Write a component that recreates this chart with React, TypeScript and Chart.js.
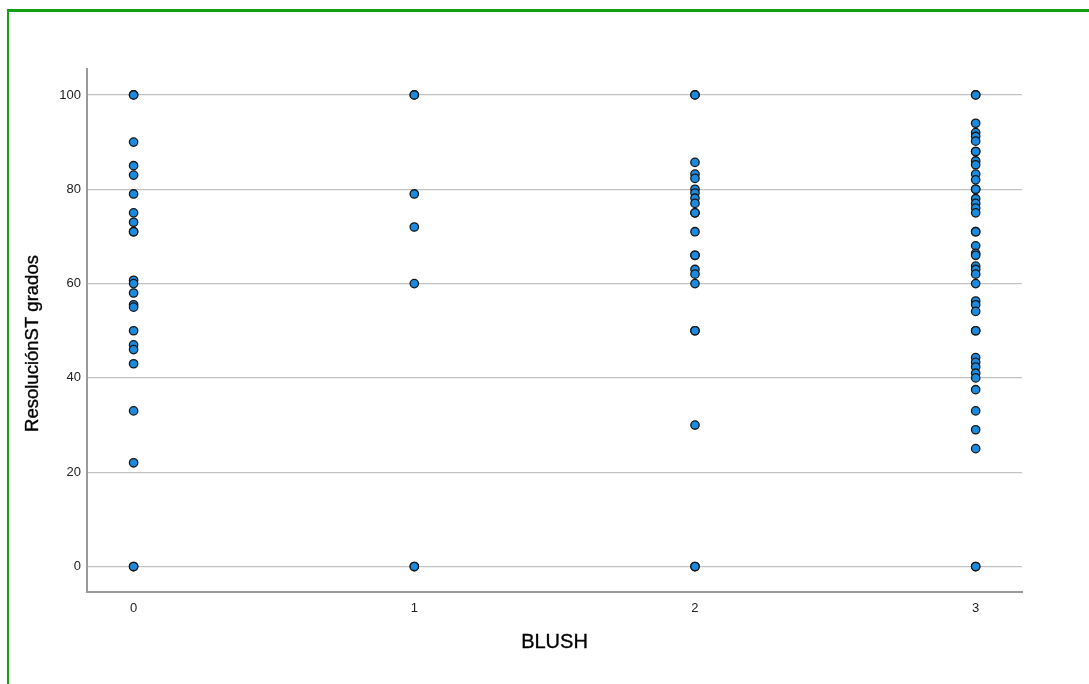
import React, { useEffect, useRef } from "react";
import { Chart, registerables } from "chart.js";

Chart.register(...registerables);

// BLUSH levels on the x axis
const blushLevels = [0, 1, 2, 3];

// ResoluciónST grados values observed at each BLUSH level
const blush0 = [100, 100, 90, 85, 83, 79, 75, 73, 71, 71, 60.7, 60, 58, 55.5, 55, 50, 47, 46, 43, 33, 22, 0, 0];
const blush1 = [100, 100, 79, 72, 60, 0, 0];
const blush2 = [100, 100, 85.7, 83.2, 82.3, 80, 79.2, 78.1, 77, 75, 75, 71, 66, 66, 63, 62, 60, 50, 50, 30, 0, 0];
const blush3 = [
  100, 100, 94, 92, 91.2, 90.2, 88, 88, 86, 85.2, 83.2, 82, 80, 80, 78, 77, 76, 75, 71, 71,
  68, 66.4, 66, 63.7, 63, 62, 60, 56.3, 55.5, 54.1, 50, 50, 44.3, 43.3, 42.3, 41, 40, 37.5,
  33, 29, 25, 0, 0,
];

// Axis tick values
const xTickValues = [0, 1, 2, 3];
const yTickValues = [0, 20, 40, 60, 80, 100];

const xTitle = "BLUSH";
const yTitle = "ResoluciónST grados";

const W = 1089;
const H = 684;

const FONT = "'Liberation Sans', Arial, Helvetica, sans-serif";

// Axis titles drawn at fixed spots beside the plot area
const axisTitles = {
  id: "axisTitles",
  afterDraw(chart: any) {
    const { ctx, chartArea } = chart;
    ctx.save();
    ctx.fillStyle = "#000";
    ctx.strokeStyle = "#000";
    ctx.lineWidth = 0.35;
    ctx.textAlign = "center";
    ctx.textBaseline = "alphabetic";
    ctx.font = `20px ${FONT}`;
    const bx = (chartArea.left + chartArea.right) / 2;
    ctx.fillText(xTitle, bx, 648);
    ctx.strokeText(xTitle, bx, 648);
    ctx.translate(38, 343.5);
    ctx.rotate(-Math.PI / 2);
    ctx.font = `18.5px ${FONT}`;
    ctx.fillText(yTitle, 0, 0);
    ctx.strokeText(yTitle, 0, 0);
    ctx.restore();
  },
};

export default function App() {
  const canvasRef = useRef<HTMLCanvasElement | null>(null);

  useEffect(() => {
    if (!canvasRef.current) return;
    const series = [blush0, blush1, blush2, blush3];
    const points = series.flatMap((vals, i) => vals.map((v) => ({ x: blushLevels[i], y: v })));

    const chart = new Chart(canvasRef.current, {
      type: "scatter",
      data: {
        datasets: [
          {
            data: points,
            backgroundColor: "#1b8be0",
            borderColor: "#161616",
            borderWidth: 1.3,
            pointRadius: 4.2,
            pointHoverRadius: 4.2,
          },
        ],
      },
      plugins: [axisTitles],
      options: {
        animation: false,
        responsive: false,
        events: [],
        layout: { padding: { left: 0, top: 69, right: 67, bottom: 0 } },
        plugins: {
          legend: { display: false },
          tooltip: { enabled: false },
        },
        scales: {
          x: {
            type: "linear",
            min: -0.166,
            max: 3.165,
            afterBuildTicks: (scale: any) => {
              scale.ticks = xTickValues.map((v) => ({ value: v }));
            },
            afterFit: (scale: any) => {
              scale.height = 92;
            },
            grid: { display: false, drawTicks: false },
            border: { display: true, color: "#9a9a9a", width: 2 },
            ticks: {
              padding: 9,
              color: "#222",
              font: { family: FONT, size: 13 },
              callback: (v: any) => String(v),
            },
            title: { display: false },
          },
          y: {
            type: "linear",
            min: -5.4,
            max: 105.5,
            afterBuildTicks: (scale: any) => {
              scale.ticks = yTickValues.map((v) => ({ value: v }));
            },
            afterFit: (scale: any) => {
              scale.width = 87;
            },
            grid: { color: "#c2c2c2", lineWidth: 1.2, drawTicks: false },
            border: { display: true, color: "#9a9a9a", width: 2 },
            ticks: {
              padding: 6,
              color: "#222",
              font: { family: FONT, size: 13 },
              callback: (v: any) => String(v),
            },
            title: { display: false },
          },
        },
      },
    });
    return () => chart.destroy();
  }, []);

  return (
    <div style={{ position: "absolute", left: 0, top: 0, width: W, height: H, background: "#fff", overflow: "hidden" }}>
      <canvas ref={canvasRef} width={W} height={H} style={{ position: "absolute", left: 0, top: 0 }} />
      <div
        style={{
          position: "absolute",
          left: 7,
          top: 9,
          width: W + 20,
          height: H + 20,
          borderLeft: "2px solid #10a010",
          borderTop: "3px solid #10a010",
          boxSizing: "border-box",
          pointerEvents: "none",
        }}
      />
    </div>
  );
}
